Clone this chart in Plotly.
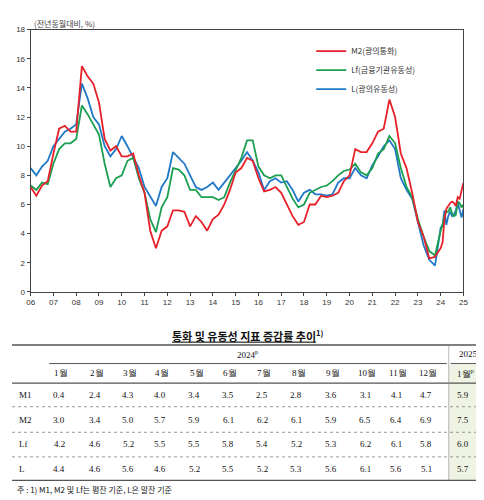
import plotly.graph_objects as go

W, H = 484, 500
def px(x): return x / W
def py(y): return 1 - y / H

# ---- chart data (year-fraction x) ----
q_dates = [2006 + i * 0.25 for i in range(72)]
m2_hist = [7.2,6.6,7.3,7.6, 9.5,11.2,11.4,11.0, 11.0,15.5,14.8,14.3, 13.0,10.5,9.7,10.0,
           9.3,9.3,9.5,8.0, 6.8,4.2,3.0,4.2, 4.5,5.6,5.6,5.5, 4.5,5.2,4.8,4.2,
           5.0,5.3,6.0,7.0, 8.2,8.5,9.2,9.0, 7.8,6.9,7.0,7.2, 6.8,6.0,5.2,4.6,
           4.8,6.0,6.0,6.6, 6.5,6.6,6.8,7.6, 8.0,9.8,9.6,9.6, 10.2,11.0,11.2,13.2,
           12.0,9.5,8.5,6.8, 4.8,3.8,2.3,2.4]
lf_hist = [7.3,7.0,7.5,7.4, 8.8,9.8,10.2,10.2, 10.5,12.8,12.2,11.5, 10.8,8.8,7.2,7.8,
           8.0,9.0,9.2,7.8, 6.8,5.0,4.1,5.8, 6.5,8.5,8.4,8.0, 7.0,7.0,6.5,6.5,
           6.5,6.3,6.5,7.5, 8.3,9.2,10.4,10.4, 8.6,8.0,7.8,8.0, 8.0,7.2,6.4,5.8,
           6.0,6.8,7.0,7.2, 7.3,7.6,8.0,8.3, 8.4,8.8,8.2,8.0, 8.5,9.5,9.8,10.7,
           10.2,8.5,7.2,6.5, 5.0,3.8,2.8,2.5]
l_hist = [8.5,8.0,8.6,9.0, 10.0,10.5,11.0,11.2, 11.5,14.3,13.3,12.0, 11.5,10.0,9.3,9.8,
          10.7,10.0,9.3,8.5, 7.2,6.5,5.9,7.2, 7.8,9.6,9.2,8.8, 8.0,7.2,7.0,7.2,
          7.5,7.0,7.5,8.0, 8.5,9.0,9.6,9.0, 8.2,7.0,7.6,7.8, 7.5,7.6,7.0,6.2,
          6.8,7.0,6.7,6.7, 6.6,6.7,7.5,7.8, 7.8,8.5,8.0,7.8, 8.7,9.3,10.0,10.4,
          9.8,7.8,7.0,6.4, 4.8,3.2,2.2,1.8]

# ---- table data ----
months = ["1월","2월","3월","4월","5월","6월","7월","8월","9월","10월","11월","12월"]
row_names = ["M1", "M2", "Lf", "L"]
m1_tab = [0.4,2.4,4.3,4.0,3.4,3.5,2.5,2.8,3.6,3.1,4.1,4.7,5.9]
m2_tab = [3.0,3.4,5.0,5.7,5.9,6.1,6.2,6.1,5.9,6.5,6.4,6.9,7.5]
lf_tab = [4.2,4.6,5.2,5.5,5.5,5.8,5.4,5.2,5.3,6.2,6.1,5.8,6.0]
l_tab  = [4.4,4.6,5.6,4.6,5.2,5.5,5.2,5.3,5.6,6.1,5.6,5.1,5.7]
year_ticks = list(range(2006, 2026))
year_labels = [f"{y % 100:02d}" for y in year_ticks]

m_dates = [2024 + m / 12 for m in range(12)] + [2025.0]
dates = q_dates + m_dates

series = [("L(광의유동성)", l_hist, l_tab, "#1f78c8"),
          ("Lf(금융기관유동성)", lf_hist, lf_tab, "#1aa050"),
          ("M2(광의통화)", m2_hist, m2_tab, "#e8202a")]
fig = go.Figure()
for name, hist, tab, col in series:
    fig.add_trace(go.Scatter(x=dates, y=hist + tab, mode="lines", name=name,
                             line=dict(color=col, width=1.8)))

fig.update_layout(
    width=W, height=H, margin=dict(l=0, r=0, t=0, b=0),
    paper_bgcolor="white", plot_bgcolor="white",
    font=dict(family="Noto Sans CJK KR", size=8, color="#333"),
    showlegend=True,
    legend=dict(x=0.63, y=0.95, xanchor="left", yanchor="top", traceorder="reversed",
                font=dict(size=8), bgcolor="rgba(0,0,0,0)", tracegroupgap=2),
    xaxis=dict(domain=[px(19), px(460)], range=[2006, 2025], tickvals=year_ticks,
               ticktext=year_labels, showgrid=False, showline=True, mirror=True,
               linecolor="#444", linewidth=1, ticks="outside", ticklen=3,
               tickfont=dict(size=8, family="Liberation Sans"), zeroline=False),
    yaxis=dict(domain=[py(285), py(18)], range=[0, 18], dtick=2, showgrid=False,
               showline=True, mirror=True, linecolor="#444", linewidth=1,
               ticks="outside", ticklen=3, tickfont=dict(size=8, family="Liberation Sans"),
               zeroline=False),
)

ann = []
shapes = []
def text(x, y, s, size=9, xanchor="center", fam="Liberation Serif", bold=False, color="#111"):
    if bold:
        s = f"<b>{s}</b>"
    ann.append(dict(x=px(x), y=py(y), xref="paper", yref="paper", text=s, showarrow=False,
                    xanchor=xanchor, yanchor="middle", font=dict(size=size, family=fam, color=color)))
def hline(x0, x1, y, w=1, dash="solid", color="#555"):
    shapes.append(dict(type="line", xref="paper", yref="paper", x0=px(x0), x1=px(x1),
                       y0=py(y), y1=py(y), line=dict(width=w, dash=dash, color=color)))

text(20, 12, "(전년동월대비, %)", size=8, xanchor="left", fam="Noto Sans CJK KR", color="#444")

# table
shapes.append(dict(type="rect", xref="paper", yref="paper", x0=px(445), x1=px(484),
                   y0=py(477), y1=py(359), fillcolor="#eef3e3", line=dict(width=0), layer="below"))
text(240, 329, "<u>통화 및 유동성 지표 증감률 추이</u><sup>1)</sup>", size=11,
     fam="Noto Sans CJK KR", bold=True)
hline(0, 484, 339, w=1.5)
text(240, 348, "2024<sup>p</sup>")
text(465, 348, "2025")
hline(38, 443, 358, w=1)
hline(447, 484, 358, w=1)
col_x = [50, 87, 120, 153, 188, 222, 257, 292, 327, 362, 393, 424, 462]
for cx, m in zip(col_x, months + ["1월<sup>p</sup>"]):
    text(cx, 368, m, size=9, fam="Liberation Serif")
hline(0, 484, 378, w=1.2)
shapes.append(dict(type="line", xref="paper", yref="paper", x0=px(445), x1=px(445),
                   y0=py(339), y1=py(477), line=dict(width=0.6, color="#888")))
row_y = [390, 415, 440, 465]
for ry, rn, vals in zip(row_y, row_names, [m1_tab, m2_tab, lf_tab, l_tab]):
    text(5, ry, rn, xanchor="left")
    for cx, v in zip(col_x, vals):
        text(cx + 6, ry, f"{v:.1f}", xanchor="right")
for sy in [402, 428, 453]:
    hline(0, 484, sy, w=1, dash="dot", color="#999")
hline(0, 484, 477, w=1.2)
text(3, 486, "주 : 1) M1, M2 및 Lf는 평잔 기준, L은 말잔 기준", size=8, xanchor="left",
     fam="Noto Sans CJK KR")

fig.update_layout(annotations=ann, shapes=shapes)
fig.write_html("out.html")
